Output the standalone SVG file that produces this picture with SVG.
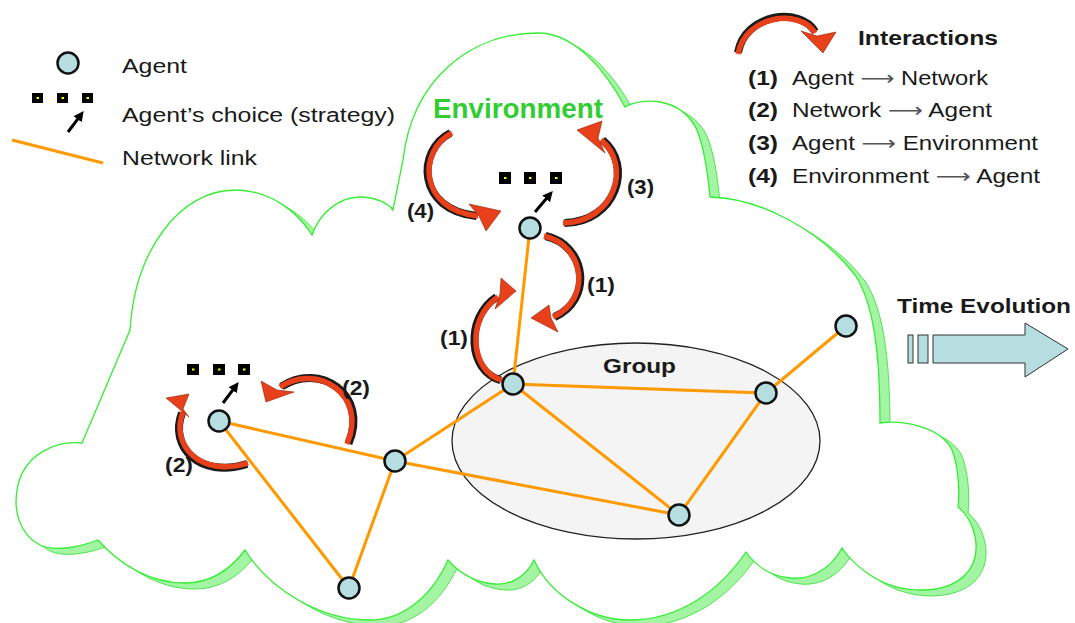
<svg xmlns="http://www.w3.org/2000/svg" width="1075" height="623" viewBox="0 0 1075 623">
<defs>
<style>
.t{font-family:"Liberation Sans",Arial,sans-serif;fill:#1a1a1a}
.b{font-weight:bold}
.edge{stroke:#ff9900;stroke-width:3;fill:none;stroke-linecap:round}
.node{fill:#b6dde0;stroke:#111;stroke-width:2.5}
.bk{stroke:#1a1a1a;stroke-width:8;fill:none}
.rd{stroke:#e8401a;stroke-width:5.5;fill:none}
.hd{fill:#e8401a;stroke:#8a2000;stroke-width:0.6;stroke-linejoin:round}
.sq{fill:#000}
.dot{fill:#ffff00}
.ptr{stroke:#000;stroke-width:3;fill:none}
.arr{fill:#555;font-family:"DejaVu Sans",sans-serif}
</style>
<marker id="ah" viewBox="0 0 10 10" refX="2" refY="5" markerWidth="3.4" markerHeight="3.4" orient="auto">
<path d="M0,0 L10,5 L0,10 z" fill="#000"/>
</marker>
<path id="cloudPath" d="M82,443 L130,330 C135,250 180,190 235,190 C270,190 298,212 312,235 C320,212 340,197 360,197 C375,197 388,203 393,210 L403,160 C412,80 470,33 538,33 C575,33 605,70 625,107 C640,98 680,95 697,130 C705,150 708,175 710,197 C760,198 820,230 855,275 C875,305 880,360 880,423 C900,420 940,425 952,450 C958,465 960,490 958,507 C975,520 985,555 965,575 C945,595 900,595 870,575 C858,567 848,557 842,548 C830,570 810,580 790,578 C770,576 755,565 746,552 C720,590 680,620 630,620 C590,620 550,595 534,560 C525,578 510,585 495,584 C475,583 458,572 448,560 C430,600 400,620 370,620 C320,620 270,590 245,550 C230,570 210,583 185,583 C150,583 120,565 98,540 C80,547 55,552 40,545 C20,535 12,510 18,485 C25,455 55,440 82,443 Z"/>
</defs>
<rect width="1075" height="623" fill="#fff"/>

<g id="environment-cloud">
<use href="#cloudPath" transform="translate(10,6)" fill="#a3f5a3" stroke="#33dd33" stroke-width="0.8"/>
<use href="#cloudPath" fill="#fff" stroke="#33ee33" stroke-width="1.3"/>
<text class="t b" x="433" y="118" font-size="27" style="fill:#33cc33" textLength="170" lengthAdjust="spacingAndGlyphs">Environment</text>
</g>

<g id="group">
<ellipse cx="636" cy="441" rx="184" ry="98" fill="#f4f4f4" stroke="#222" stroke-width="1.3"/>
<text class="t b" x="603" y="373" font-size="20" textLength="73" lengthAdjust="spacingAndGlyphs">Group</text>
</g>

<g id="connectors">
<line class="edge" x1="530" y1="228" x2="513" y2="384" stroke-width="2.5"/>
<line class="edge" x1="513" y1="384" x2="766" y2="393"/>
<line class="edge" x1="513" y1="384" x2="679" y2="515"/>
<line class="edge" x1="513" y1="384" x2="395" y2="461"/>
<line class="edge" x1="766" y1="393" x2="679" y2="515"/>
<line class="edge" x1="766" y1="393" x2="846" y2="326"/>
<line class="edge" x1="395" y1="461" x2="679" y2="515"/>
<line class="edge" x1="219" y1="421" x2="395" y2="461"/>
<line class="edge" x1="219" y1="421" x2="349" y2="588"/>
<line class="edge" x1="395" y1="461" x2="349" y2="588"/>
</g>

<g id="interaction-arrows">
<!-- (4) -->
<path class="bk" transform="translate(-1.5,0)" d="M452,133 C418,150 418,210 478,216"/>
<path class="rd" d="M452,133 C418,150 418,210 478,216"/>
<polygon class="hd" points="469,204 479,216 486,231 501,211"/>
<!-- (3) -->
<path class="bk" transform="translate(1.5,0)" d="M563,223 C615,222 632,165 601,140"/>
<path class="rd" d="M563,223 C615,222 632,165 601,140"/>
<polygon class="hd" points="602,121 598,138 605,153 577,130"/>
<!-- (1) upper -->
<path class="bk" transform="translate(1.5,0)" d="M544,236 C585,245 592,300 553,317"/>
<path class="rd" d="M544,236 C585,245 592,300 553,317"/>
<polygon class="hd" points="549,305 551,318 558,332 531,318"/>
<!-- (1) lower -->
<path class="bk" transform="translate(-1.5,0)" d="M502,380 C470,372 466,318 498,297"/>
<path class="rd" d="M502,380 C470,372 466,318 498,297"/>
<polygon class="hd" points="501,278 500,294 495,309 516,291"/>
<!-- (2) right -->
<path class="bk" transform="translate(1.5,-0.5)" d="M280,387 C318,362 368,395 347,444"/>
<path class="rd" d="M280,387 C318,362 368,395 347,444"/>
<polygon class="hd" points="261,381 277,390 294,392 266,402"/>
<!-- (2) left -->
<path class="bk" transform="translate(-1,1)" d="M183,412 C170,445 200,478 248,463"/>
<path class="rd" d="M183,412 C170,445 200,478 248,463"/>
<polygon class="hd" points="189,394 183,409 189,417 166,398"/>
</g>

<g id="labels">
<text class="t b" x="407" y="218" font-size="20" textLength="27" lengthAdjust="spacingAndGlyphs">(4)</text>
<text class="t b" x="627" y="194" font-size="20" textLength="27" lengthAdjust="spacingAndGlyphs">(3)</text>
<text class="t b" x="587" y="292" font-size="20" textLength="28" lengthAdjust="spacingAndGlyphs">(1)</text>
<text class="t b" x="440" y="345" font-size="20" textLength="28" lengthAdjust="spacingAndGlyphs">(1)</text>
<text class="t b" x="342" y="395" font-size="20" textLength="28" lengthAdjust="spacingAndGlyphs">(2)</text>
<text class="t b" x="165" y="472" font-size="20" textLength="28" lengthAdjust="spacingAndGlyphs">(2)</text>
</g>

<g id="strategy-A">
<rect class="sq" x="499" y="172" width="12" height="12"/><rect class="dot" x="504" y="177" width="2.5" height="2"/>
<rect class="sq" x="524" y="172" width="12" height="12"/><rect class="dot" x="529" y="177" width="2.5" height="2"/>
<rect class="sq" x="550" y="172" width="12" height="12"/><rect class="dot" x="555" y="177" width="2.5" height="2"/>
<line class="ptr" x1="535" y1="212" x2="547.5" y2="197.3" marker-end="url(#ah)"/>
</g>
<g id="strategy-G">
<rect class="sq" x="187" y="364" width="12" height="11"/><rect class="dot" x="192" y="368.5" width="2.5" height="2"/>
<rect class="sq" x="213" y="364" width="12" height="11"/><rect class="dot" x="218" y="368.5" width="2.5" height="2"/>
<rect class="sq" x="238" y="364" width="12" height="11"/><rect class="dot" x="243" y="368.5" width="2.5" height="2"/>
<line class="ptr" x1="223" y1="403" x2="233.8" y2="388.6" marker-end="url(#ah)"/>
</g>

<g id="agent-A"><circle class="node" cx="530" cy="228" r="10.5"/></g>
<g id="agent-B"><circle class="node" cx="513" cy="384" r="10.5"/></g>
<g id="agent-C"><circle class="node" cx="766" cy="393" r="10.5"/></g>
<g id="agent-D"><circle class="node" cx="679" cy="515" r="10.5"/></g>
<g id="agent-E"><circle class="node" cx="846" cy="326" r="10.5"/></g>
<g id="agent-F"><circle class="node" cx="395" cy="461" r="10.5"/></g>
<g id="agent-G"><circle class="node" cx="219" cy="421" r="10.5"/></g>
<g id="agent-H"><circle class="node" cx="349" cy="588" r="10.5"/></g>

<g id="legend-left">
<circle class="node" cx="68" cy="63" r="10.5"/>
<text class="t" x="122" y="73" font-size="20" textLength="65" lengthAdjust="spacingAndGlyphs">Agent</text>
<rect class="sq" x="32" y="93" width="11" height="10"/><rect class="dot" x="36.5" y="97" width="2.5" height="2"/>
<rect class="sq" x="57" y="93" width="11" height="10"/><rect class="dot" x="61.5" y="97" width="2.5" height="2"/>
<rect class="sq" x="82" y="93" width="11" height="10"/><rect class="dot" x="86.5" y="97" width="2.5" height="2"/>
<line class="ptr" x1="68" y1="132" x2="78.8" y2="117.6" marker-end="url(#ah)"/>
<text class="t" x="122" y="122" font-size="20" textLength="273" lengthAdjust="spacingAndGlyphs">Agent’s choice (strategy)</text>
<line x1="12" y1="140" x2="103" y2="163" stroke="#ff9900" stroke-width="3"/>
<text class="t" x="122" y="165" font-size="20" textLength="135" lengthAdjust="spacingAndGlyphs">Network link</text>
</g>

<g id="legend-right">
<path class="bk" transform="translate(0,-1.5)" d="M738,54 C745,15 800,8 815,33"/>
<path class="rd" d="M738,54 C745,15 800,8 815,33"/>
<polygon class="hd" points="801,31 817,36 836,32 823,53"/>
<text class="t b" x="858" y="45" font-size="21" textLength="140" lengthAdjust="spacingAndGlyphs">Interactions</text>
<text class="t b" x="748" y="85" font-size="20" textLength="30" lengthAdjust="spacingAndGlyphs">(1)</text>
<text class="t" x="792" y="85" font-size="20" textLength="196" lengthAdjust="spacingAndGlyphs">Agent <tspan class="arr">⟶</tspan> Network</text>
<text class="t b" x="748" y="117" font-size="20" textLength="30" lengthAdjust="spacingAndGlyphs">(2)</text>
<text class="t" x="792" y="117" font-size="20" textLength="200" lengthAdjust="spacingAndGlyphs">Network <tspan class="arr">⟶</tspan> Agent</text>
<text class="t b" x="748" y="150" font-size="20" textLength="30" lengthAdjust="spacingAndGlyphs">(3)</text>
<text class="t" x="792" y="150" font-size="20" textLength="246" lengthAdjust="spacingAndGlyphs">Agent <tspan class="arr">⟶</tspan> Environment</text>
<text class="t b" x="748" y="183" font-size="20" textLength="30" lengthAdjust="spacingAndGlyphs">(4)</text>
<text class="t" x="792" y="183" font-size="20" textLength="248" lengthAdjust="spacingAndGlyphs">Environment <tspan class="arr">⟶</tspan> Agent</text>
</g>

<g id="time-evolution">
<text class="t b" x="897" y="313" font-size="21" textLength="174" lengthAdjust="spacingAndGlyphs">Time Evolution</text>
<rect x="908" y="335" width="5" height="28" fill="#b6dde0" stroke="#333" stroke-width="1"/>
<rect x="918" y="335" width="10" height="28" fill="#b6dde0" stroke="#333" stroke-width="1"/>
<polygon points="933,335 1025,335 1025,323 1068,349 1025,377 1025,363 933,363" fill="#b6dde0" stroke="#333" stroke-width="1"/>
</g>
</svg>
